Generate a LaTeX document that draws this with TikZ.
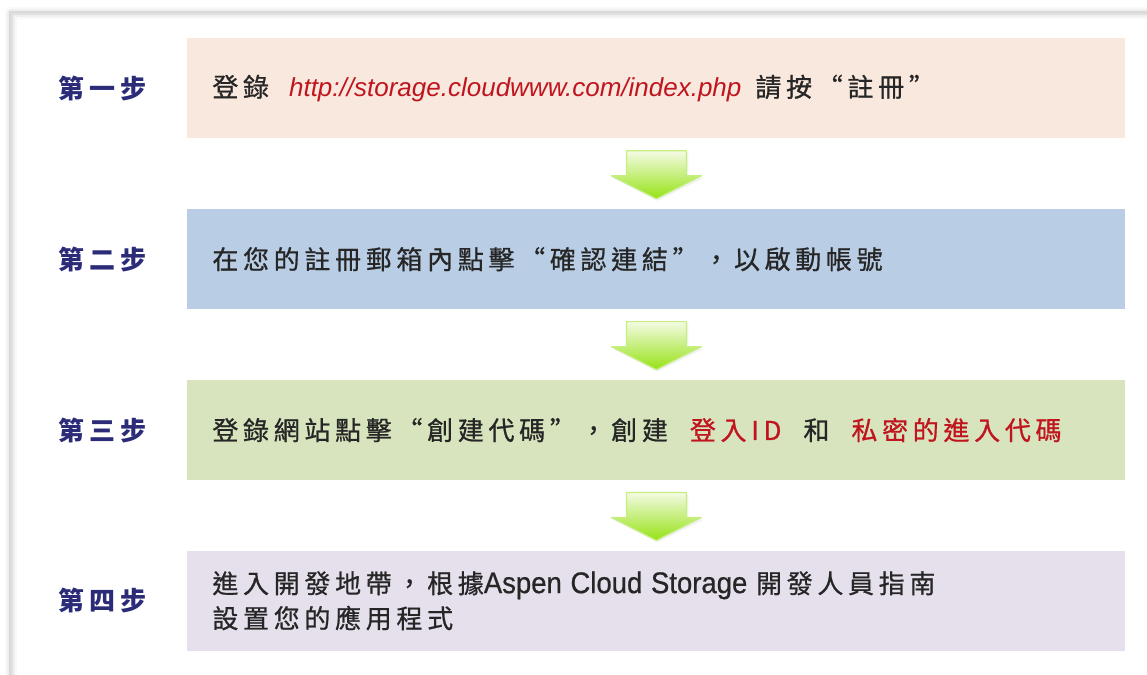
\documentclass[tikz,border=0pt]{standalone}
\usepackage{fontspec}
\setmainfont{Liberation Sans}
\newfontfamily\cjk[LetterSpace=18, FakeBold=0.8]{Noto Sans CJK TC}
\newfontfamily\cjkstep[LetterSpace=20]{Noto Sans CJK TC}
\newfontfamily\narrowsans[Scale=1.15, FakeStretch=0.92, FakeBold=0.6]{Liberation Sans}
\usetikzlibrary{positioning,calc}

\definecolor{stepnavy}{RGB}{43,43,120}
\definecolor{linkred}{RGB}{192,20,30}
\definecolor{boxpeach}{RGB}{249,232,221}
\definecolor{boxblue}{RGB}{185,205,229}
\definecolor{boxgreen}{RGB}{215,228,189}
\definecolor{boxlilac}{RGB}{229,224,236}
\definecolor{arrowlime}{RGB}{150,226,20}
\definecolor{arrowpale}{RGB}{244,251,228}

\tikzset{
  stepbox/.style={minimum width=469pt, minimum height=50pt, inner xsep=12.5pt, inner ysep=0pt,
    text width=444pt, align=left, anchor=north west, text=black!85,
    font=\cjk\fontsize{13pt}{17.5pt}\selectfont},
  steplabel/.style={inner sep=0pt, text=stepnavy, font=\cjkstep\bfseries\fontsize{13pt}{16pt}\selectfont},
  downarrow/.style={top color=arrowpale, bottom color=arrowlime, draw=arrowlime!55!white, line width=0.6pt},
}

\begin{document}
\begin{tikzpicture}[x=0.5pt, y=-0.5pt, line join=round]
	\useasboundingbox (0,0) rectangle (1147,675);
	% outer frame with a soft shadow
	\foreach \w/\o in {6/0.025, 4/0.04, 2/0.06}
		\draw[line width=\w pt, black, opacity=\o] (11,675) -- (11,13) -- (1147,13);
	\draw[gray!30, line width=0.6pt] (10,675) -- (10,12) -- (1147,12);

	% the four steps
	\node[stepbox, fill=boxpeach] (box1) at (187,38)
		{登錄\hspace{10pt}{\rmfamily\itshape\color{linkred}http://storage.cloudwww.com/index.php}\hspace{7pt}請按“註冊”};
	\node[stepbox, fill=boxblue, below=35pt of box1] (box2)
		{在您的註冊郵箱內點擊“確認連結”，以啟動帳號};
	\node[stepbox, fill=boxgreen, below=35pt of box2] (box3)
		{登錄網站點擊“創建代碼”，創建\hspace{11pt}{\color{linkred}登入ID}\hspace{11pt}和\hspace{11pt}{\color{linkred}私密的進入代碼}};
	\node[stepbox, fill=boxlilac, below=35pt of box3] (box4)
		{進入開發地帶，根據{\narrowsans Aspen Cloud Storage} 開發人員指南\\設置您的應用程式};

	\node[steplabel, left=20pt of box1] (step1) {第一步};
	\node[steplabel, left=20pt of box2] (step2) {第二步};
	\node[steplabel, left=20pt of box3] (step3) {第三步};
	\node[steplabel, left=20pt of box4] (step4) {第四步};

	% block arrows between the boxes
	\foreach \a/\b in {box1/box2, box2/box3, box3/box4} {
		\fill[black, opacity=0.05] ($(\a.south)+(-29,14)$) -- ($(\a.south)+(32,14)$) -- ($(\a.south)+(32,39)$) -- ($(\a.south)+(48,39)$)
			-- ($(\b.north)+(1,-8)$) -- ($(\a.south)+(-44,39)$) -- ($(\a.south)+(-29,39)$) -- cycle;
		\filldraw[downarrow] ($(\a.south)+(-30,12)$) -- ($(\a.south)+(30,12)$) -- ($(\a.south)+(30,37)$) -- ($(\a.south)+(45,37)$)
			-- ($(\b.north)+(0,-10)$) -- ($(\a.south)+(-45,37)$) -- ($(\a.south)+(-30,37)$) -- cycle;
	}
\end{tikzpicture}
\end{document}
